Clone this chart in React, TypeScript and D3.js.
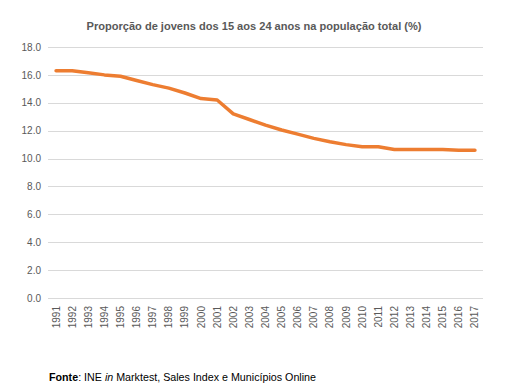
import React, { useEffect, useRef } from 'react';
import * as d3 from 'd3';

const years = [
  '1991', '1992', '1993', '1994', '1995', '1996', '1997', '1998', '1999', '2000',
  '2001', '2002', '2003', '2004', '2005', '2006', '2007', '2008', '2009', '2010',
  '2011', '2012', '2013', '2014', '2015', '2016', '2017',
];
const share = [
  16.3, 16.3, 16.15, 16.0, 15.9, 15.6, 15.3, 15.05, 14.7, 14.3,
  14.2, 13.2, 12.8, 12.4, 12.05, 11.75, 11.45, 11.2, 11.0, 10.85,
  10.85, 10.65, 10.65, 10.65, 10.65, 10.6, 10.6,
];
const yTicks = [0, 2, 4, 6, 8, 10, 12, 14, 16, 18];

const App = () => {
  const svgRef = useRef<SVGSVGElement>(null);

  useEffect(() => {
    document.body.style.margin = '0';
    const svg = d3.select(svgRef.current);
    svg.selectAll('*').remove();

    const width = 517;
    const height = 391;
    const font = '"Liberation Sans", Arial, sans-serif';
    const grey = '#595959';

    const x = d3.scaleBand().domain(years).range([48, 483]);
    const y = d3.scaleLinear().domain([0, 18]).range([298, 47]);

    svg.attr('width', width).attr('height', height).style('display', 'block');

    svg.append('text')
      .attr('x', 254)
      .attr('y', 30)
      .attr('text-anchor', 'middle')
      .attr('font-family', font)
      .attr('font-weight', 'bold')
      .attr('font-size', 11.5)
      .attr('fill', grey)
      .attr('textLength', 335)
      .attr('lengthAdjust', 'spacingAndGlyphs')
      .text('Proporção de jovens dos 15 aos 24 anos na população total (%)');

    // gridlines
    svg.append('g')
      .selectAll('line')
      .data(yTicks)
      .enter()
      .append('line')
      .attr('x1', 48)
      .attr('x2', 483)
      .attr('y1', (d) => Math.round(y(d)) + 0.5)
      .attr('y2', (d) => Math.round(y(d)) + 0.5)
      .attr('stroke', '#d9d9d9')
      .attr('stroke-width', 1);

    const yAxis = svg.append('g')
      .attr('transform', 'translate(41,0)')
      .call(d3.axisLeft(y).tickValues(yTicks).tickFormat(d3.format('.1f')).tickSize(0).tickPadding(0));
    yAxis.select('.domain').remove();
    yAxis.selectAll('text')
      .attr('font-family', font)
      .attr('font-size', 10)
      .attr('fill', grey);

    const xAxis = svg.append('g')
      .attr('transform', 'translate(0,298)')
      .call(d3.axisBottom(x).tickSize(0).tickPadding(0));
    xAxis.select('.domain').remove();
    xAxis.selectAll('text')
      .attr('font-family', font)
      .attr('font-size', 10)
      .attr('fill', grey)
      .attr('text-anchor', 'end')
      .attr('transform', 'rotate(-90)')
      .attr('x', -8)
      .attr('y', 0)
      .attr('dy', '0.35em');

    const line = d3.line<number>()
      .x((_, i) => (x(years[i]) as number) + x.bandwidth() / 2)
      .y((d) => y(d));

    svg.append('path')
      .datum(share)
      .attr('d', line)
      .attr('fill', 'none')
      .attr('stroke', '#ED7D31')
      .attr('stroke-width', 3.5)
      .attr('stroke-linejoin', 'round')
      .attr('stroke-linecap', 'round');

    const note = svg.append('text')
      .attr('x', 49)
      .attr('y', 381)
      .attr('font-family', font)
      .attr('font-size', 11)
      .attr('fill', '#000')
      .attr('textLength', 267)
      .attr('lengthAdjust', 'spacingAndGlyphs');
    note.append('tspan').attr('font-weight', 'bold').text('Fonte');
    note.append('tspan').text(': INE ');
    note.append('tspan').attr('font-style', 'italic').text('in');
    note.append('tspan').text(' Marktest, Sales Index e Municípios Online');
  }, []);

  return <svg ref={svgRef}></svg>;
};

export default App;
